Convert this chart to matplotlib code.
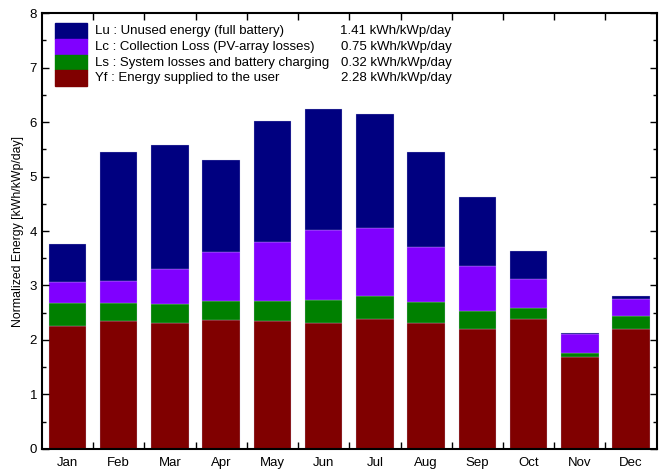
import matplotlib.pyplot as plt
from matplotlib.patches import Rectangle
import numpy as np

plt.rcParams['font.family'] = ['Liberation Sans', 'DejaVu Sans']

# data
months = ['Jan', 'Feb', 'Mar', 'Apr', 'May', 'Jun', 'Jul', 'Aug', 'Sep', 'Oct', 'Nov', 'Dec']
yf = [2.26, 2.34, 2.31, 2.37, 2.35, 2.31, 2.38, 2.31, 2.21, 2.38, 1.69, 2.20]
ls = [0.42, 0.33, 0.35, 0.34, 0.37, 0.42, 0.43, 0.39, 0.33, 0.21, 0.07, 0.24]
lc = [0.38, 0.41, 0.64, 0.90, 1.08, 1.29, 1.24, 1.01, 0.82, 0.52, 0.34, 0.31]
lu = [0.70, 2.37, 2.28, 1.70, 2.22, 2.22, 2.10, 1.74, 1.27, 0.53, 0.03, 0.06]

leg_names = ['Lu : Unused energy (full battery)',
             'Lc : Collection Loss (PV-array losses)',
             'Ls : System losses and battery charging',
             'Yf : Energy supplied to the user']
leg_vals = ['1.41 kWh/kWp/day', '0.75 kWh/kWp/day', '0.32 kWh/kWp/day', '2.28 kWh/kWp/day']
colors = ['#000080', '#8000ff', '#008000', '#800000']

fig = plt.figure(figsize=(6.64, 4.71), dpi=100)
ax = fig.add_axes([0.063, 0.047, 0.926, 0.925])

x = np.arange(len(months))
w = 0.73
bottom = np.zeros(len(months))
for vals, c in zip([yf, ls, lc, lu], colors[::-1]):
    ax.bar(x, vals, w, bottom=bottom, color=c, edgecolor='#c8c8e8', linewidth=0.2)
    bottom += np.array(vals)

ax.set_xlim(-0.5, 11.5)
ax.set_ylim(0, 8)
ax.set_xticks(x)
ax.set_xticklabels(months, fontsize=9.5)
ax.set_xticks(x[:-1] + 0.5, minor=True)
ax.set_yticks(range(9))
ax.set_yticks(np.arange(0.5, 8, 1), minor=True)
ax.tick_params(axis='x', which='major', length=0, pad=6)
ax.tick_params(axis='x', which='minor', direction='in', length=5, width=1, top=True, bottom=True)
ax.tick_params(axis='y', which='major', direction='in', length=5, width=1, left=True, right=True, labelsize=9.5)
ax.tick_params(axis='y', which='minor', direction='in', length=3, width=1, left=True, right=True)
for s in ax.spines.values():
    s.set_linewidth(1.5)
ax.set_ylabel('Normalized Energy [kWh/kWp/day]', fontsize=8.8)

# legend box drawn by hand
y0 = 0.978
h = 0.0365
for i in range(4):
    yy = y0 - (i + 1) * h
    ax.add_patch(Rectangle((0.021, yy), 0.052, h, transform=ax.transAxes,
                           color=colors[i], clip_on=False))
    ax.text(0.086, yy + h / 2, leg_names[i], transform=ax.transAxes,
            fontsize=9.5, va='center', ha='left')
    ax.text(0.666, yy + h / 2, leg_vals[i], transform=ax.transAxes,
            fontsize=9.5, va='center', ha='right')

plt.savefig('out.png', dpi=100)
